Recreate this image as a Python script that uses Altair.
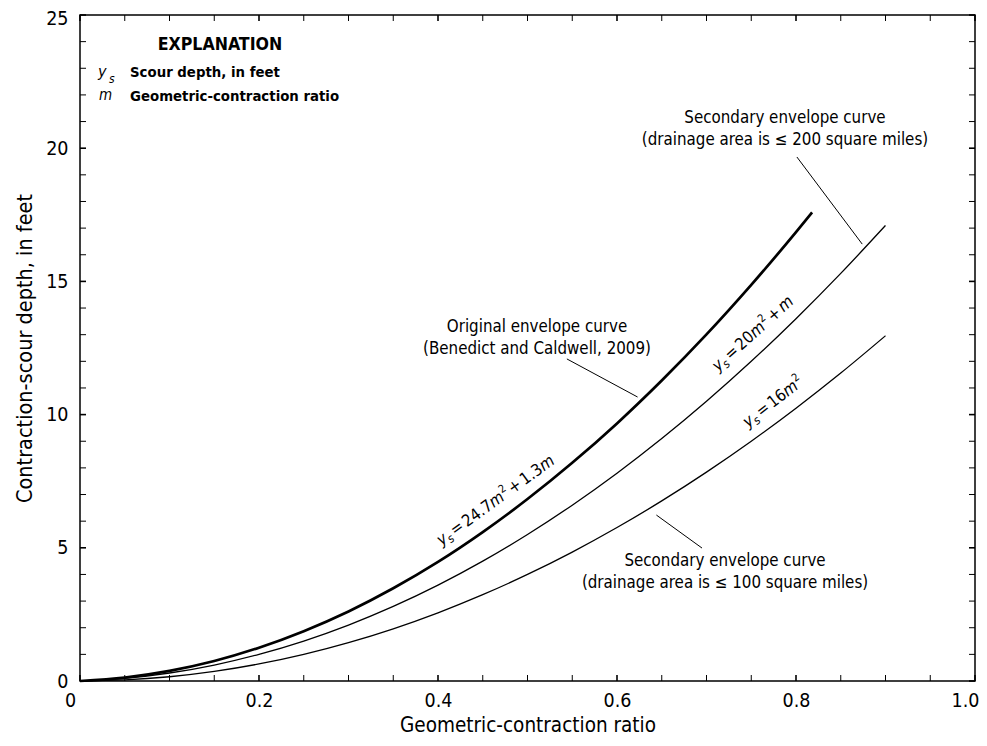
import altair as alt
import pandas as pd

FONT = "DejaVu Sans Condensed"

# ---------------- data ----------------
m_orig = [0.0, 0.05, 0.10, 0.15, 0.20, 0.25, 0.30, 0.35, 0.40, 0.45, 0.50, 0.55, 0.60, 0.65, 0.70, 0.75, 0.80, 0.818]
ys_orig = [0.0, 0.13, 0.38, 0.75, 1.25, 1.87, 2.61, 3.48, 4.47, 5.59, 6.83, 8.19, 9.67, 11.28, 13.01, 14.87, 16.85, 17.59]

m_sec = [0.0, 0.05, 0.10, 0.15, 0.20, 0.25, 0.30, 0.35, 0.40, 0.45, 0.50, 0.55, 0.60, 0.65, 0.70, 0.75, 0.80, 0.85, 0.90]
ys_200 = [0.0, 0.10, 0.30, 0.60, 1.00, 1.50, 2.10, 2.80, 3.60, 4.50, 5.50, 6.60, 7.80, 9.10, 10.50, 12.00, 13.60, 15.30, 17.10]
ys_100 = [0.0, 0.04, 0.16, 0.36, 0.64, 1.00, 1.44, 1.96, 2.56, 3.24, 4.00, 4.84, 5.76, 6.76, 7.84, 9.00, 10.24, 11.56, 12.96]

x_major = [0.0, 0.2, 0.4, 0.6, 0.8, 1.0]
x_minor = [0.05, 0.10, 0.15, 0.25, 0.30, 0.35, 0.45, 0.50, 0.55, 0.65, 0.70, 0.75, 0.85, 0.90, 0.95]
y_major = [0, 5, 10, 15, 20, 25]
y_minor = [1, 2, 3, 4, 6, 7, 8, 9, 11, 12, 13, 14, 16, 17, 18, 19, 21, 22, 23, 24]

note_lines = ["Secondary envelope curve", "(drainage area is \u2264 200 square miles)",
              "Original envelope curve", "(Benedict and Caldwell, 2009)",
              "Secondary envelope curve", "(drainage area is \u2264 100 square miles)"]
note_x = [0.7877, 0.7877, 0.5106, 0.5106, 0.7207, 0.7207]
note_y = [20.93, 20.11, 13.09, 12.27, 4.32, 3.50]

leader_x = [0.801, 0.544, 0.644]
leader_y = [19.67, 12.09, 6.23]
leader_x2 = [0.874, 0.623, 0.695]
leader_y2 = [16.40, 10.66, 4.99]

# equation anchors (start of baseline) and angles
eq_x = [0.4040, 0.7128, 0.7464]
eq_y = [5.07, 11.60, 9.50]
eq_angle = [324, 318, 322]

W = 895
H = 666

xs = alt.Scale(domain=[0, 1], nice=False, zero=False)
yss = alt.Scale(domain=[0, 25], nice=False, zero=False)

x_axis = alt.Axis(values=x_major, labelExpr="datum.value == 0 ? '0' : format(datum.value, '.1f')",
                  labelOffset={"condition": {"test": "datum.value == 0 || datum.value == 1", "value": -10},
                               "value": 0},
                  title="Geometric-contraction ratio", labelPadding=10,
                  titleX=W / 2, titleY=50, titleFontSize=20.5, titleBaseline="alphabetic", titleAlign="center")
y_axis = alt.Axis(values=y_major, format="d", title="Contraction-scour depth, in feet", labelPadding=12,
                  labelOffset={"condition": {"test": "datum.value == 25", "value": 3}, "value": 0},
                  titleX=-49, titleY=H / 2, titleAngle=270, titleBaseline="alphabetic", titleAlign="center")


def X(field):
    return alt.X(field, type="quantitative", scale=xs, axis=x_axis)


def Y(field):
    return alt.Y(field, type="quantitative", scale=yss, axis=y_axis)


layers = []


def curve(mv, yv, sw):
    df = pd.DataFrame({"m": mv, "ys": yv})
    return alt.Chart(df).mark_line(color="black", strokeWidth=sw, interpolate="monotone").encode(
        x=X("m"), y=Y("ys"))


layers.append(curve(m_orig, ys_orig, 2.7))
layers.append(curve(m_sec, ys_200, 1.3))
layers.append(curve(m_sec, ys_100, 1.3))


# inward ticks on all four sides
def xticks(vals, sw):
    df = pd.DataFrame({"v": vals})
    return [alt.Chart(df).mark_rule(color="black", strokeWidth=sw).encode(
        x=X("v"), y=alt.value(y0), y2=alt.value(y1)) for y0, y1 in [(H, H - 6), (0, 6)]]


def yticks(vals, sw):
    df = pd.DataFrame({"v": vals})
    return [alt.Chart(df).mark_rule(color="black", strokeWidth=sw).encode(
        y=Y("v"), x=alt.value(x0), x2=alt.value(x1)) for x0, x1 in [(0, 6), (W, W - 6)]]


layers += xticks(x_major, 1.6) + xticks(x_minor, 1.0) + yticks(y_major, 1.6) + yticks(y_minor, 1.0)

# leader lines
ldf = pd.DataFrame({"x": leader_x, "y": leader_y, "x2": leader_x2, "y2": leader_y2})
layers.append(alt.Chart(ldf).mark_rule(color="black", strokeWidth=1.0).encode(
    x=X("x"), y=Y("y"), x2="x2:Q", y2="y2:Q"))

# notes
ndf = pd.DataFrame({"x": note_x, "y": note_y, "t": note_lines})
layers.append(alt.Chart(ndf).mark_text(font=FONT, fontSize=16.8, color="black", align="center",
                                       baseline="alphabetic").encode(x=X("x"), y=Y("y"), text="t:N"))


# explanation block
def txt(t, x, y, size, weight="normal", style="normal", align="left"):
    df = pd.DataFrame({"x": [x], "y": [y]})
    return alt.Chart(df).mark_text(font=FONT, fontSize=size, fontWeight=weight, fontStyle=style,
                                   color="black", align=align, baseline="alphabetic", text=t).encode(
        x=X("x"), y=Y("y"))


layers.append(txt("EXPLANATION", 0.1564, 23.67, 17.6, weight="bold", align="center"))
layers.append(txt("y", 0.0201, 22.67, 16, style="italic"))
layers.append(txt("s", 0.0324, 22.45, 12, style="italic"))
layers.append(txt("Scour depth, in feet", 0.0559, 22.67, 14.8, weight="bold"))
layers.append(txt("m", 0.0212, 21.81, 15, style="italic"))
layers.append(txt("Geometric-contraction ratio", 0.0559, 21.77, 14.8, weight="bold"))

# rotated equations built from pieces (DejaVu Sans Condensed advance widths)
CW = {" ": 318, "=": 838, "+": 838, ".": 318, "y": 592, "s": 521, "m": 974,
      "0": 636, "1": 636, "2": 636, "3": 636, "4": 636, "5": 636, "6": 636, "7": 636, "8": 636, "9": 636}


def tw(s, size):
    return sum(CW[c] for c in s) / 1000.0 * 0.9 * size


F = 16.5
SB = 12
SU = 11
G = 0.14 * F
eq_pieces = [
    [("y", F, True, 0, 0), ("s", SB, True, 3.5, 0), ("=", F, False, 0, G), ("24.7", F, False, 0, G),
     ("m", F, True, 0, 0), ("2", SU, False, -7, 0.5), ("+", F, False, 0, G), ("1.3", F, False, 0, G),
     ("m", F, True, 0, 0)],
    [("y", F, True, 0, 0), ("s", SB, True, 3.5, 0), ("=", F, False, 0, G), ("20", F, False, 0, G),
     ("m", F, True, 0, 0), ("2", SU, False, -7, 0.5), ("+", F, False, 0, G), ("m", F, True, 0, G)],
    [("y", F, True, 0, 0), ("s", SB, True, 3.5, 0), ("=", F, False, 0, G), ("16", F, False, 0, G),
     ("m", F, True, 0, 0), ("2", SU, False, -7, 0.5)],
]

for i, pieces in enumerate(eq_pieces):
    df = pd.DataFrame({"x": [eq_x[i]], "y": [eq_y[i]]})
    pos = 0.0
    for (t, size, ital, dy, gap) in pieces:
        pos += gap
        layers.append(alt.Chart(df).mark_text(font=FONT, fontSize=size,
                                              fontStyle="italic" if ital else "normal",
                                              color="black", align="left", baseline="alphabetic",
                                              angle=eq_angle[i], dx=round(pos, 2), dy=dy, text=t).encode(
            x=X("x"), y=Y("y")))
        pos += tw(t, size)

chart = alt.layer(*layers).properties(
    width=W, height=H,
    autosize=alt.AutoSizeParams(type="none"),
    padding={"left": 72, "top": 7, "right": 4, "bottom": 55},
).configure(font=FONT).configure_view(
    stroke="black", strokeWidth=1.5
).configure_axis(
    grid=False, domain=False, ticks=False, tickSize=0,
    labelFont=FONT, labelFontSize=19.5, labelColor="black",
    labelFlush=False, labelOverlap=False, labelBound=False,
    titleFont=FONT, titleFontSize=21.5, titleFontWeight="normal", titleColor="black",
)

chart.save("out.html", embed_options={"renderer": "svg", "actions": False})
